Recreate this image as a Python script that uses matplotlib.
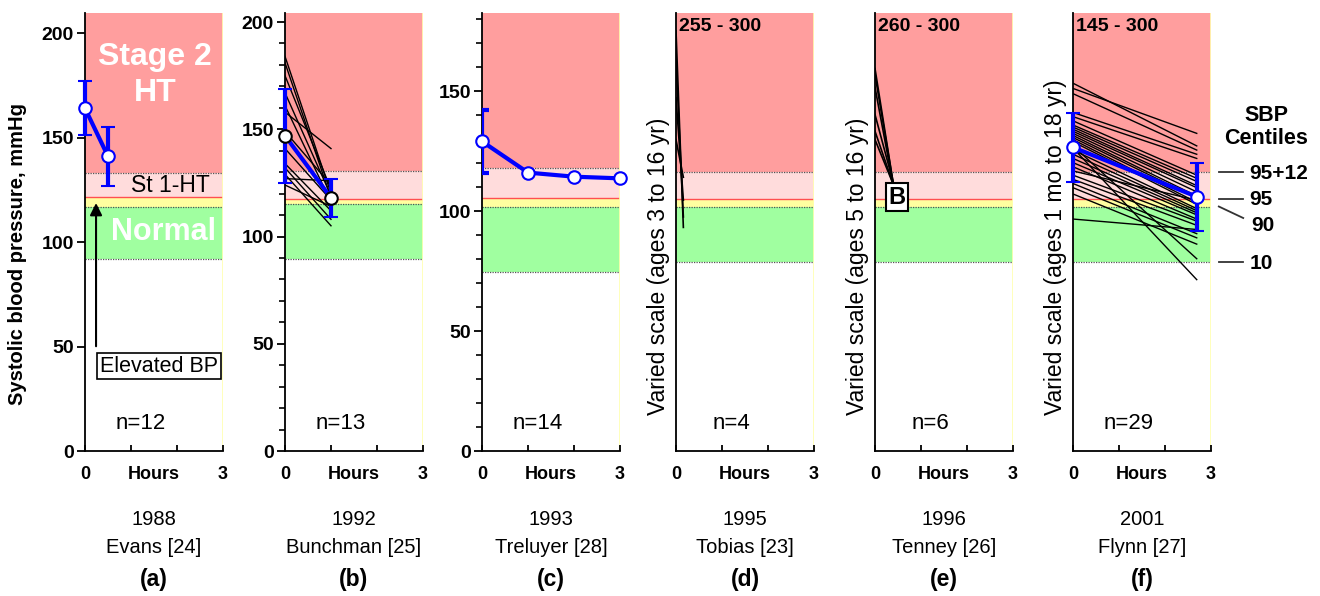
import matplotlib.pyplot as plt
from matplotlib.ticker import MultipleLocator

plt.rcParams['font.family'] = ['Liberation Sans', 'DejaVu Sans']

# colours of the SBP zones
RED, PINK, YELLOW, GREEN = '#ff9e9e', '#ffdcdc', '#ffffa0', '#a0ffa0'
BLUE = '#0000ff'

# (a) Evans 1988 - mean +/- sd
a_hours = [0, 0.5]
a_mean = [164, 141]
a_sd = [13, 14]

# (b) Bunchman 1992 - individual patients + mean
b_hours = [0, 1]
b_start = [184, 181, 175, 167, 161, 158, 149, 141, 134, 132, 129, 127, 124]
b_end = [120, 118, 122, 119, 116, 141, 124, 117, 112, 108, 105, 126, 114]
b_mean = [147, 118]
b_sd = [22, 8.7]

# (c) Treluyer 1993
c_hours = [0, 1, 2, 3]
c_mean = [129, 116, 114.3, 113.6]
c_sd0 = 13

# (d) Tobias 1995 (varied scale)
d_hours = [0, 0.16]
d_start = [201, 187, 169, 149]
d_end = [107, 112, 120, 131]

# (e) Tenney 1996 (varied scale)
e_hours = [0, 0.39]
e_start = [183, 180, 174, 161, 153, 149]
e_end = [129, 129, 128, 129, 128, 128]

# (f) Flynn 2001 (varied scale)
f_hours = [0, 2.69]
f_start = [176, 173.5, 171, 162, 160, 158, 156, 155, 154, 153, 152, 151, 150, 149,
           148, 146, 145, 144, 142, 140, 138, 136, 134, 132, 130, 128, 126, 123, 111]
f_end = [146, 152, 144, 142, 140, 132, 130.5, 129, 127, 126, 124, 122, 121, 119,
         118, 92, 82, 116, 115, 114, 113, 111, 120, 110, 108, 104, 102, 99, 106]
f_mean = [145.3, 121.7]
f_sd = [16.5, 16.3]

# zone limits per panel: stage2 bottom, stage1 bottom (95th), normal top (90th), normal bottom (10th)
zones = {
    'a': [133, 121.5, 117, 92],
    'b': [130.7, 117.7, 115, 89.3],
    'c': [118, 105.4, 101.7, 74.6],
    'd': [133.5, 120.8, 117, 90.5],
    'e': [133.5, 120.8, 117, 90.5],
    'f': [133.5, 120.8, 117, 90.5],
}
ytops = {'a': 209.6, 'b': 204.2, 'c': 182.5, 'd': 209.6, 'e': 209.6, 'f': 209.6}
lefts = {'a': 85, 'b': 285, 'c': 482, 'd': 676, 'e': 875, 'f': 1073}
counts = {'a': 12, 'b': 13, 'c': 14, 'd': 4, 'e': 6, 'f': 29}
years = {'a': '1988', 'b': '1992', 'c': '1993', 'd': '1995', 'e': '1996', 'f': '2001'}
authors = {'a': 'Evans [24]', 'b': 'Bunchman [25]', 'c': 'Treluyer [28]',
           'd': 'Tobias [23]', 'e': 'Tenney [26]', 'f': 'Flynn [27]'}
ranges = {'d': '255 - 300', 'e': '260 - 300', 'f': '145 - 300'}
ages = {'d': 'Varied scale (ages 3 to 16 yr)', 'e': 'Varied scale (ages 5 to 16 yr)',
        'f': 'Varied scale (ages 1 mo to 18 yr)'}

W, H = 1320, 596
fig = plt.figure(figsize=(W / 100, H / 100), dpi=100)


def make_panel(key):
    ax = fig.add_axes([lefts[key] / W, (H - 451) / H, 138 / W, 438 / H])
    top = ytops[key]
    s2, s1, nt, nb = zones[key]
    ax.axhspan(s2, top, color=RED, lw=0, zorder=0)
    ax.axhspan(s1, s2, color=PINK, lw=0, zorder=0)
    ax.axhspan(nt, s1, color=YELLOW, lw=0, zorder=0)
    ax.axhspan(nb, nt, color=GREEN, lw=0, zorder=0)
    for y in (s2, nt, nb):
        ax.axhline(y, color='#555555', lw=0.9, ls=(0, (1, 1)), zorder=1)
    ax.axhline(s1, color='#ff5050', lw=1, zorder=1)
    ax.axvline(3, color='#ffffb0', lw=1.2, zorder=1)
    ax.set_xlim(0, 3)
    ax.set_ylim(0, top)
    for side in ('top', 'right'):
        ax.spines[side].set_visible(False)
    for side in ('left', 'bottom'):
        ax.spines[side].set_linewidth(1.3)
    ax.set_xticks([0, 1, 2, 3], ['', '', '', ''])
    ax.tick_params(axis='x', direction='in', length=4, width=1.3)
    ax.tick_params(axis='y', direction='out', length=6, width=1.3, pad=2)
    ax.tick_params(axis='y', which='minor', direction='out', length=4, width=1.2)
    xt = ax.get_xaxis_transform()
    for x, lab in ((0, '0'), (3, '3'), (1.5, 'Hours')):
        ax.text(x, -0.054, lab, transform=xt, ha='center', va='center', fontsize=13,
                fontweight='bold')
    ax.text(1.2, 0.062, f'n={counts[key]}', transform=xt, ha='center', va='center', fontsize=16)
    ax.text(0.5, -0.157, years[key], transform=ax.transAxes, ha='center', va='center', fontsize=14.5)
    ax.text(0.5, -0.221, authors[key], transform=ax.transAxes, ha='center', va='center', fontsize=14.5)
    ax.text(0.5, -0.293, f'({key})', transform=ax.transAxes, ha='center', va='center',
            fontsize=16.5, fontweight='bold')
    if key in ranges:
        ax.set_yticks([])
        ax.text(0.02, 0.97, ranges[key], transform=ax.transAxes, ha='left', va='center',
                fontsize=14, fontweight='bold')
        ax.text(-0.13, 0.082, ages[key], transform=ax.transAxes, rotation=90,
                rotation_mode='anchor', ha='left', va='center', fontsize=16.5)
    return ax


def mean_line(ax, hours, mean, sd, edge=BLUE):
    ax.errorbar(hours, mean, yerr=sd, color=BLUE, lw=3, elinewidth=3, capsize=5, capthick=3,
                marker='o', mfc='white', mec=edge, ms=9, mew=1.5, zorder=6, clip_on=False)


tick_font = dict(fontsize=14, fontweight='bold')

# (a)
ax = make_panel('a')
ax.set_yticks([0, 50, 100, 150, 200], ['0', '50', '100', '150', '200'], **tick_font)
mean_line(ax, a_hours, a_mean, a_sd)
ax.text(1.52, 180, 'Stage 2\nHT', color='white', fontsize=23, fontweight='bold',
        ha='center', va='center', linespacing=1.25)
ax.text(1.85, 127, 'St 1-HT', fontsize=16.5, ha='center', va='center')
ax.text(1.7, 104.8, 'Normal', color='white', fontsize=22, fontweight='bold', ha='center', va='center')
ax.annotate('', xy=(0.24, 120), xytext=(0.24, 48.8),
            arrowprops=dict(arrowstyle='-|>', color='black', lw=1.5, mutation_scale=18))
ax.text(1.61, 40.5, 'Elevated BP', fontsize=15.5, ha='center', va='center', zorder=5,
        bbox=dict(boxstyle='square,pad=0.12', fc='white', ec='black', lw=1.2))

# (b)
ax = make_panel('b')
ax.set_yticks([0, 50, 100, 150, 200], ['0', '50', '100', '150', '200'], **tick_font)
ax.yaxis.set_minor_locator(MultipleLocator(10))
for s, e in zip(b_start, b_end):
    ax.plot(b_hours, [s, e], color='black', lw=1, zorder=3)
mean_line(ax, b_hours, b_mean, b_sd, edge='black')

# (c)
ax = make_panel('c')
ax.set_yticks([0, 50, 100, 150], ['0', '50', '100', '150'], **tick_font)
ax.yaxis.set_minor_locator(MultipleLocator(10))
ax.errorbar(c_hours[:1], c_mean[:1], yerr=c_sd0, color=BLUE, elinewidth=3, capsize=5,
            capthick=3, fmt='none', zorder=5)
ax.plot(c_hours, c_mean, color=BLUE, lw=3, marker='o', mfc='white', mec=BLUE, ms=9, mew=1.5,
        zorder=6, clip_on=False)

# (d)
ax = make_panel('d')
for s, e in zip(d_start, d_end):
    ax.plot(d_hours, [s, e], color='black', lw=1.2, zorder=3)

# (e)
ax = make_panel('e')
for s, e in zip(e_start, e_end):
    ax.plot(e_hours, [s, e], color='black', lw=1.2, zorder=3)
ax.text(0.48, 121.5, 'B', fontsize=17, fontweight='bold', ha='center', va='center', zorder=5,
        bbox=dict(boxstyle='square,pad=0.12', fc='white', ec='black', lw=1.5))

# (f)
ax = make_panel('f')
for s, e in zip(f_start, f_end):
    ax.plot(f_hours, [s, e], color='black', lw=1, zorder=3)
mean_line(ax, f_hours, f_mean, f_sd)
s2, s1, nt, nb = zones['f']
ax.text(4.2, 155, 'SBP\nCentiles', fontsize=15.5, fontweight='bold', ha='center', va='center',
        linespacing=1.15)
for y, lab in ((s2, '95+12'), (s1, '95'), (nb, '10')):
    ax.plot([3.17, 3.70], [y, y], color='#333333', lw=1.3, clip_on=False)
    ax.text(3.83, y - 0.6, lab, fontsize=15, fontweight='bold', ha='left', va='center')
ax.plot([3.17, 3.70], [nt, nt - 5.5], color='#333333', lw=1.3, clip_on=False)
ax.text(3.87, nt - 9, '90', fontsize=15, fontweight='bold', ha='left', va='center')

fig.text(18 / W, 1 - 254 / H, 'Systolic blood pressure, mmHg', rotation=90, ha='center',
         va='center', fontsize=14.5, fontweight='bold')

fig.savefig('out.png', dpi=100)
